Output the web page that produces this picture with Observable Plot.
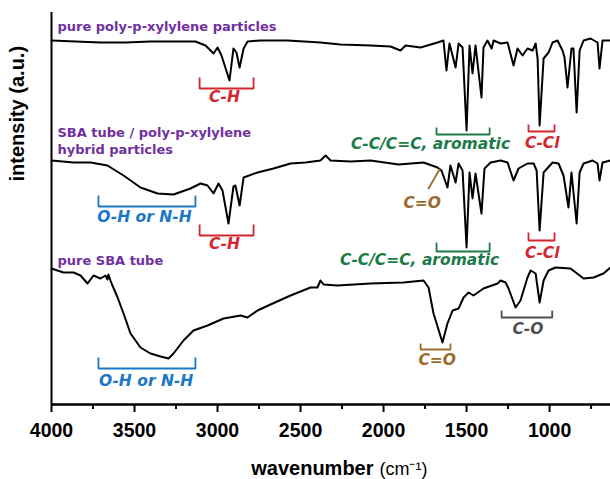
<!DOCTYPE html>
<html>
<head>
<meta charset="utf-8">
<script src="https://cdn.jsdelivr.net/npm/d3@7"></script>
<script src="https://cdn.jsdelivr.net/npm/@observablehq/plot@0.6"></script>
<style>
  html, body { margin: 0; padding: 0; background: #fff; }
  g[aria-label="x-axis tick label"] text { font-weight: bold; }
</style>
</head>
<body>
<div id="chart"></div>
<script>
// ---- data (wavenumber in cm^-1, intensity in arbitrary units, curves stacked as in the figure) ----
const ppxWavenumber = [4000,3855,3705,3554,3404,3253,3133,3072,3024,3000,2976,2928,2904,2886,2867,2843,2819,2741,2578,2380,2259,2078,1958,1898,1867,1777,1675,1639,1621,1603,1566,1548,1524,1500,1482,1464,1446,1410,1398,1374,1349,1337,1295,1253,1217,1193,1163,1133,1102,1084,1072,1060,1036,1006,982,952,922,910,892,868,856,837,819,795,753,711,699,681,645,633];
const ppxIntensity  = [364,363,362,362,363,363,363,359,351,357,349,324,356,352,337,356,363,364,364,362,360,359,358,354,359,357,362,364,334,361,337,361,357,274,359,331,359,307,357,364,356,364,361,362,339,356,349,356,354,361,346,279,346,352,362,364,354,347,317,356,356,292,354,364,366,362,336,364,364,364];

const hybridWavenumber = [4000,3867,3765,3663,3566,3464,3361,3265,3163,3102,3060,3024,2994,2970,2934,2904,2892,2867,2843,2759,2663,2560,2470,2380,2349,2319,2199,2078,1910,1759,1675,1651,1615,1597,1566,1548,1524,1500,1482,1464,1446,1410,1392,1355,1295,1253,1217,1187,1133,1096,1078,1060,1036,982,946,916,886,868,837,819,795,741,711,699,681,633];
const hybridIntensity  = [244,242,242,239,229,217,211,210,216,221,219,211,221,214,181,218,219,199,227,232,236,241,242,244,249,244,243,244,240,242,237,234,217,239,222,241,234,157,232,206,231,191,236,242,244,242,224,236,241,241,234,174,232,242,241,229,197,232,181,232,241,244,241,224,242,244];

const sbaWavenumber = [4000,3928,3867,3825,3783,3747,3705,3675,3663,3657,3645,3633,3602,3566,3524,3464,3404,3343,3295,3265,3205,3145,3060,2964,2861,2819,2759,2681,2560,2440,2398,2380,2361,2277,2078,1880,1759,1729,1699,1645,1615,1584,1548,1518,1488,1458,1398,1313,1295,1265,1247,1205,1175,1133,1114,1084,1060,1036,1006,964,874,795,735,675,633];
const sbaIntensity  = [136,132,132,129,121,129,126,129,125,130,124,119,107,91,71,57,51,48,46,51,64,74,79,86,89,87,94,100,109,117,117,124,120,119,121,122,124,117,91,62,81,94,96,107,112,109,116,121,124,122,116,97,104,127,134,131,102,124,134,137,136,126,127,131,137];

// x-axis ticks
const majorTicks = [4000, 3500, 3000, 2500, 2000, 1500, 1000];
const minorTicks = [3750, 3250, 2750, 2250, 1750, 1250, 750];

// sample labels
const sampleLabels = ["pure poly-p-xylylene particles", "SBA tube / poly-p-xylylene", "hybrid particles", "pure SBA tube"];
const sampleLabelX = [3964, 3964, 3964, 3964];
const sampleLabelY = [373.4, 267.4, 250.8, 139.5];

// band assignment brackets
const bandLabels   = ["C-H", "C-C/C=C, aromatic", "C-Cl", "O-H or N-H", "C-H", "C-C/C=C, aromatic", "C-Cl", "O-H or N-H", "C=O", "C-O"];
const bandFrom     = [3108, 1681, 1127, 3717, 3108, 1681, 1127, 3717, 1777, 1289];
const bandTo       = [2783, 1361, 970, 3133, 2783, 1361, 970, 3133, 1597, 984];
const bandTop      = [327, 277, 280, 209, 180, 162, 172, 47, 61, 94];
const bandBottom   = [316, 270, 273, 198, 169, 153, 164, 36, 55, 87];
const bandTextX    = [2958, 1717, 1044, 3440, 2958, 1783, 1044, 3430, 1677, 1130];
const bandTextY    = [302.3, 256, 256.7, 182.5, 155.3, 139.5, 146.7, 19, 39.4, 70.7];
const bandKind     = ["CH", "arom", "CCl", "OH", "CH", "arom", "CCl", "OH", "CO2", "CO"];

// C=O pointer on the hybrid spectrum
const pointerX = [1663, 1729];
const pointerY = [235, 216];
const pointerText = "C=O";
const pointerTextX = 1767;
const pointerTextY = 196.7;

// ---- styling ----
const ARIAL = "'Liberation Sans', Arial, Helvetica, sans-serif";
const VERD = "'DejaVu Sans', Verdana, sans-serif";
const kindColor = {CH: "#d3262f", arom: "#1c7b48", CCl: "#d3262f", OH: "#1a78c6", CO2: "#9b6a2e", CO: "#505050"};
const purple = "#7030a0";

const toRows = (ws, vs) => ws.map((w, i) => ({w, v: vs[i]}));

const bracketMarks = bandLabels.map((lab, i) => {
  const rows = [
    {w: bandFrom[i], v: bandTop[i]},
    {w: bandFrom[i], v: bandBottom[i]},
    {w: bandTo[i], v: bandBottom[i]},
    {w: bandTo[i], v: bandTop[i]}
  ];
  return Plot.line(rows, {x: "w", y: "v", stroke: kindColor[bandKind[i]], strokeWidth: 1.8, strokeLinejoin: "miter", strokeLinecap: "butt"});
});
const bracketTextMarks = bandLabels.map((lab, i) =>
  Plot.text([lab], {x: () => bandTextX[i], y: () => bandTextY[i], text: d => d,
    fill: kindColor[bandKind[i]], fontFamily: VERD, fontWeight: "bold", fontStyle: "italic",
    fontSize: 15.5, textAnchor: "middle", lineAnchor: "bottom"})
);
const sampleTextMarks = sampleLabels.map((lab, i) =>
  Plot.text([lab], {x: () => sampleLabelX[i], y: () => sampleLabelY[i], text: d => d,
    fill: purple, fontFamily: VERD, fontWeight: "bold", fontSize: 13, textAnchor: "start", lineAnchor: "bottom"})
);

const chart = Plot.plot({
  width: 610,
  height: 479,
  marginLeft: 51,
  marginRight: 0,
  marginTop: 12,
  marginBottom: 75,
  x: {domain: [4000, 633]},
  y: {domain: [0, 392], axis: null},
  style: {background: "#fff", fontFamily: ARIAL, color: "#000", overflow: "visible"},
  marks: [
    Plot.axisX({ticks: minorTicks, tickSize: 5, strokeWidth: 2, color: "#000", tickFormat: () => "", label: null}),
    Plot.axisX({ticks: majorTicks, tickSize: 8, tickPadding: 11, strokeWidth: 2, color: "#000",
      tickFormat: d => String(d), fontSize: 19.5, fontWeight: "bold", fontFamily: ARIAL, label: null}),
    Plot.ruleY([0], {stroke: "#000", strokeWidth: 2.4}),
    Plot.ruleX([4000], {stroke: "#000", strokeWidth: 2}),
    Plot.line(toRows(ppxWavenumber, ppxIntensity), {x: "w", y: "v", stroke: "#000", strokeWidth: 2}),
    Plot.line(toRows(hybridWavenumber, hybridIntensity), {x: "w", y: "v", stroke: "#000", strokeWidth: 2}),
    Plot.line(toRows(sbaWavenumber, sbaIntensity), {x: "w", y: "v", stroke: "#000", strokeWidth: 2}),
    ...bracketMarks,
    Plot.line(toRows(pointerX, pointerY), {x: "w", y: "v", stroke: kindColor.CO2, strokeWidth: 1.8}),
    Plot.text([pointerText], {x: () => pointerTextX, y: () => pointerTextY, text: d => d,
      fill: kindColor.CO2, fontFamily: VERD, fontWeight: "bold", fontStyle: "italic",
      fontSize: 15.5, textAnchor: "middle", lineAnchor: "bottom"}),
    ...bracketTextMarks,
    ...sampleTextMarks,
    Plot.text(["intensity (a.u.)"], {frameAnchor: "left", rotate: -90, dx: -34, dy: -27,
      fontFamily: ARIAL, fontWeight: "bold", fontSize: 20, fill: "#000"}),
    Plot.text(["wavenumber"], {frameAnchor: "bottom-left", dx: 322, dy: 70, textAnchor: "end", lineAnchor: "bottom",
      fontFamily: ARIAL, fontWeight: "bold", fontSize: 20, fill: "#000"}),
    Plot.text(["(cm\u207B\u00B9)"], {frameAnchor: "bottom-left", dx: 328, dy: 70, textAnchor: "start", lineAnchor: "bottom",
      fontFamily: ARIAL, fontWeight: "normal", fontSize: 18, fill: "#000"})
  ]
});
document.getElementById("chart").appendChild(chart);
</script>
</body>
</html>
